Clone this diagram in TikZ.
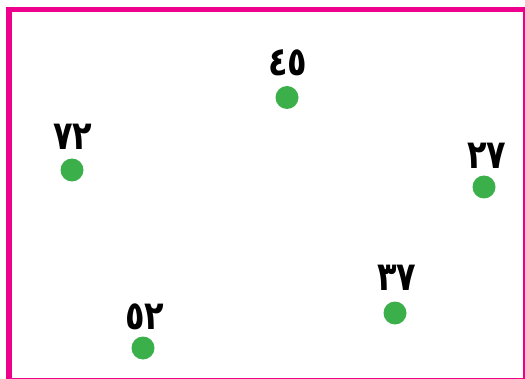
\documentclass[tikz,border=0pt]{standalone}
\usepackage{fontspec}
\newfontfamily\arabicfont[Script=Arabic]{DejaVu Sans}
\definecolor{framemag}{RGB}{236,0,140}
\definecolor{dotgreen}{RGB}{59,176,74}
\tikzset{
  pt/.style={circle, fill=dotgreen, draw=none, minimum size=23pt, inner sep=0pt},
  num/.style={font=\arabicfont\bfseries\fontsize{40}{40}\selectfont, inner sep=0pt, text=black, xscale=0.8}
}
\begin{document}
\begin{tikzpicture}[x=1pt,y=1pt]
\useasboundingbox (0,0) rectangle (525,378);
\clip (0,0) rectangle (525,378);
\fill[white] (0,0) rectangle (525,378);
\draw[framemag, line width=5.5pt] (9,368.5) rectangle (526.2,-2.4);
% dots
\node[pt] (d45) at (287,280.5) {};
\node[pt] (d72) at (72,208) {};
\node[pt] (d27) at (484,191) {};
\node[pt] (d37) at (395,65) {};
\node[pt] (d52) at (143,30) {};
% labels
\node[num] (l45) at (288,315) {٤٥};
\node[num] (l72) at (73,241) {٧٢};
\node[num] (l27) at (487,222) {٢٧};
\node[num] (l37) at (397,100) {٣٧};
\node[num] (l52) at (145,61) {٥٢};
\end{tikzpicture}
\end{document}
